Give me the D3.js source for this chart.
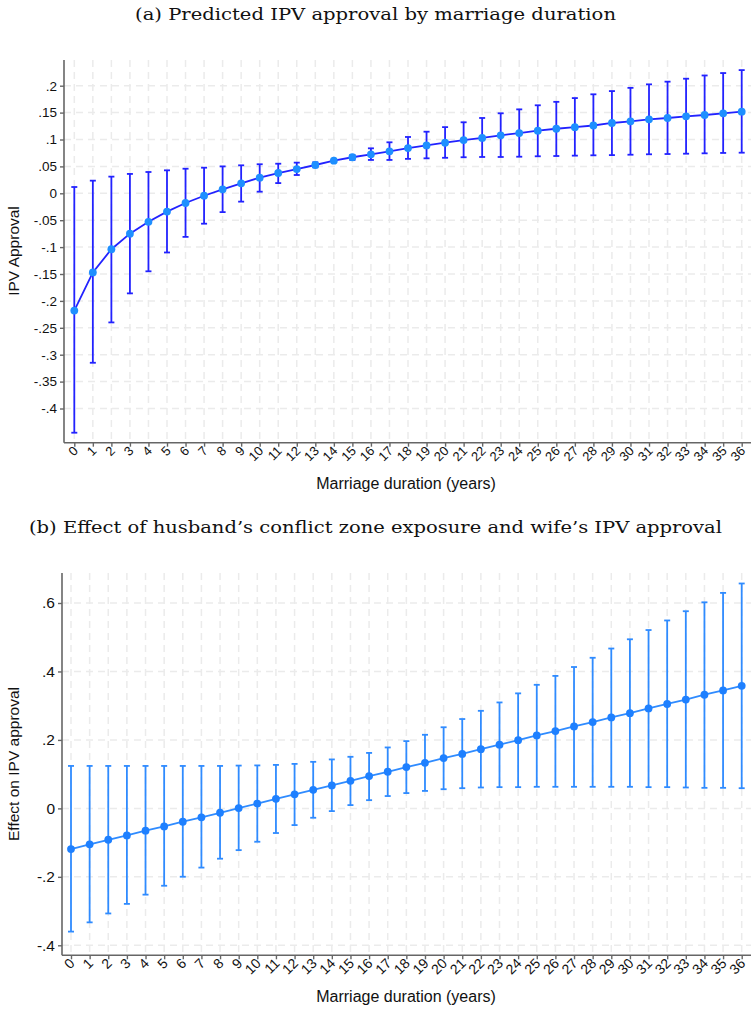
<!DOCTYPE html>
<html>
<head>
<meta charset="utf-8">
<script src="https://cdn.jsdelivr.net/npm/d3@7"></script>
<style>
body { margin:0; background:#fff; }
svg { display:block; }
</style>
</head>
<body>
<svg id="chart" width="751" height="1009"></svg>
<script>
// ---- Data ----
const years = d3.range(0, 37);
const tickLabelsA = [".2", ".15", ".1", ".05", "0", "-.05", "-.1", "-.15", "-.2", "-.25", "-.3", "-.35", "-.4"];
const tickValuesA = [0.2, 0.15, 0.1, 0.05, 0, -0.05, -0.1, -0.15, -0.2, -0.25, -0.3, -0.35, -0.4];
const meanA = [-0.218, -0.147, -0.104, -0.075, -0.053, -0.034, -0.018, -0.0045, 0.0074, 0.0186,
  0.029, 0.0377, 0.045, 0.0526, 0.0606, 0.067, 0.0725, 0.078, 0.084, 0.089,
  0.094, 0.099, 0.103, 0.1078, 0.112, 0.1164, 0.120, 0.123, 0.126, 0.1307,
  0.1338, 0.1375, 0.140, 0.143, 0.1455, 0.1487, 0.1517];
const upperA = [0.0117, 0.0235, 0.031, 0.036, 0.0396, 0.0427, 0.0457, 0.0476, 0.050, 0.052,
  0.054, 0.055, 0.057, 0.0576, 0.0615, 0.071, 0.0836, 0.0948, 0.1047, 0.1145,
  0.123, 0.132, 0.140, 0.1487, 0.156, 0.1636, 0.170, 0.177, 0.184, 0.190,
  0.196, 0.2025, 0.2075, 0.213, 0.219, 0.2235, 0.229];
const lowerA = [-0.445, -0.315, -0.240, -0.186, -0.145, -0.110, -0.081, -0.0565, -0.035, -0.0155,
  0.003, 0.019, 0.034, 0.0483, 0.0597, 0.062, 0.062, 0.062, 0.064, 0.065,
  0.066, 0.067, 0.0675, 0.0675, 0.068, 0.0688, 0.0693, 0.070, 0.0706, 0.071,
  0.0717, 0.0725, 0.073, 0.0736, 0.0743, 0.075, 0.0755];

const tickLabelsB = [".6", ".4", ".2", "0", "-.2", "-.4"];
const tickValuesB = [0.6, 0.4, 0.2, 0, -0.2, -0.4];
const meanB = [-0.119, -0.105, -0.0917, -0.079, -0.065, -0.0526, -0.039, -0.026, -0.0128, 0.001,
  0.014, 0.028, 0.041, 0.0543, 0.067, 0.0806, 0.0943, 0.107, 0.1206, 0.133,
  0.147, 0.159, 0.173, 0.186, 0.1994, 0.213, 0.2257, 0.2394, 0.252, 0.2657,
  0.278, 0.292, 0.305, 0.318, 0.332, 0.3445, 0.358];
const upperB = [0.124, 0.124, 0.124, 0.124, 0.124, 0.124, 0.124, 0.124, 0.124, 0.125,
  0.1255, 0.127, 0.130, 0.136, 0.143, 0.1507, 0.162, 0.178, 0.1965, 0.215,
  0.237, 0.261, 0.285, 0.3095, 0.336, 0.361, 0.387, 0.413, 0.440, 0.467,
  0.494, 0.521, 0.549, 0.576, 0.602, 0.6295, 0.657];
const lowerB = [-0.360, -0.333, -0.307, -0.279, -0.252, -0.226, -0.1997, -0.173, -0.147, -0.122,
  -0.0975, -0.072, -0.0488, -0.0274, -0.008, 0.0096, 0.024, 0.036, 0.0447, 0.051,
  0.056, 0.059, 0.061, 0.062, 0.062, 0.063, 0.063, 0.063, 0.063, 0.063,
  0.063, 0.062, 0.062, 0.061, 0.060, 0.060, 0.059];

const titleA = "(a) Predicted IPV approval by marriage duration";
const titleB = "(b) Effect of husband\u2019s conflict zone exposure and wife\u2019s IPV approval";
const xTitle = "Marriage duration (years)";
const yTitleA = "IPV Approval";
const yTitleB = "Effect on IPV approval";

// ---- Drawing ----
const svg = d3.select("#chart");
const sans = "Liberation Sans, Arial, sans-serif";
const serif = "DejaVu Serif, serif";

function panel(cfg) {
  const g = svg.append("g");
  const x = d3.scaleLinear().domain([0, 36]).range(cfg.xRange);
  const y = d3.scaleLinear().domain(cfg.yDomain).range(cfg.yRange);

  // title
  g.append("text").attr("x", 375.5).attr("y", cfg.titleY)
    .attr("text-anchor", "middle").attr("font-family", serif).attr("font-size", 17)
    .attr("textLength", cfg.titleLen).attr("lengthAdjust", "spacingAndGlyphs")
    .attr("fill", "#111").text(cfg.title);

  // grid
  const grid = g.append("g").attr("stroke", "#ebebeb").attr("stroke-width", 1.5)
    .attr("stroke-dasharray", "7,5");
  grid.selectAll("line.v").data(years).join("line")
    .attr("x1", d => x(d)).attr("x2", d => x(d))
    .attr("y1", cfg.top).attr("y2", cfg.bottom);
  grid.selectAll("line.h").data(cfg.tickValues).join("line")
    .attr("x1", cfg.left).attr("x2", 751)
    .attr("y1", d => y(d)).attr("y2", d => y(d));

  // axes
  const yAxis = d3.axisLeft(y).tickValues(cfg.tickValues)
    .tickFormat((d, i) => cfg.tickLabels[i]).tickSize(4).tickPadding(3);
  const ya = g.append("g").attr("transform", `translate(${cfg.left},0)`).call(yAxis);
  ya.select(".domain").attr("d", `M-0,${cfg.top}V${cfg.bottom}`);
  ya.attr("font-family", sans).attr("font-size", cfg.yTickSize);

  const xAxis = d3.axisBottom(x).tickValues(years).tickFormat(d => String(d)).tickSize(4);
  const xa = g.append("g").attr("transform", `translate(0,${cfg.bottom})`).call(xAxis);
  xa.select(".domain").attr("d", `M${cfg.left},0H751`);
  xa.attr("font-family", sans).attr("font-size", cfg.xTickSize);
  xa.selectAll(".tick text")
    .attr("text-anchor", "end").attr("dy", null).attr("y", null)
    .attr("transform", "translate(4,9) rotate(-45)");

  [ya, xa].forEach(a => {
    a.select(".domain").attr("stroke", "#666").attr("stroke-width", 1.6);
    a.selectAll(".tick line").attr("stroke", "#666").attr("stroke-width", 1.4);
    a.selectAll(".tick text").attr("fill", "#111");
  });

  // axis titles
  g.append("text").attr("x", 406).attr("y", cfg.xTitleY).attr("text-anchor", "middle")
    .attr("font-family", sans).attr("font-size", 16).attr("fill", "#111").text(xTitle);
  g.append("text").attr("transform", `translate(19,${cfg.yTitleCenter}) rotate(-90)`)
    .attr("text-anchor", "middle").attr("font-family", sans).attr("font-size", 15.5)
    .attr("fill", "#111").text(cfg.yTitle);

  // error bars
  const eb = g.append("g").attr("stroke", cfg.barColor).attr("stroke-width", 1.8);
  eb.selectAll("line.bar").data(years).join("line")
    .attr("x1", d => x(d)).attr("x2", d => x(d))
    .attr("y1", d => y(cfg.upper[d])).attr("y2", d => y(cfg.lower[d]));
  eb.selectAll("line.capu").data(years).join("line")
    .attr("x1", d => x(d) - 3).attr("x2", d => x(d) + 3)
    .attr("y1", d => y(cfg.upper[d])).attr("y2", d => y(cfg.upper[d]));
  eb.selectAll("line.capl").data(years).join("line")
    .attr("x1", d => x(d) - 3).attr("x2", d => x(d) + 3)
    .attr("y1", d => y(cfg.lower[d])).attr("y2", d => y(cfg.lower[d]));

  // line
  const line = d3.line().x(d => x(d)).y(d => y(cfg.mean[d]));
  g.append("path").datum(years).attr("d", line).attr("fill", "none")
    .attr("stroke", cfg.barColor).attr("stroke-width", 1.8);

  // markers
  g.selectAll("circle.m").data(years).join("circle")
    .attr("cx", d => x(d)).attr("cy", d => y(cfg.mean[d])).attr("r", 3.9)
    .attr("fill", cfg.dotColor);
}

panel({
  title: titleA, titleY: 20, titleLen: 481,
  xRange: [74.3, 741.7], yDomain: [-0.4, 0.2], yRange: [408.5, 85.7],
  left: 64, top: 60, bottom: 442.7,
  tickValues: tickValuesA, tickLabels: tickLabelsA, yTickSize: 13.5, xTickSize: 13,
  mean: meanA, upper: upperA, lower: lowerA,
  xTitleY: 489, yTitle: yTitleA, yTitleCenter: 251,
  barColor: "#2222ff", dotColor: "#1e8fff"
});

panel({
  title: titleB, titleY: 533, titleLen: 693,
  xRange: [71, 741.7], yDomain: [-0.4, 0.6], yRange: [945.3, 603],
  left: 62, top: 573, bottom: 955.3,
  tickValues: tickValuesB, tickLabels: tickLabelsB, yTickSize: 15.5, xTickSize: 14,
  mean: meanB, upper: upperB, lower: lowerB,
  xTitleY: 1002, yTitle: yTitleB, yTitleCenter: 764,
  barColor: "#2f8bff", dotColor: "#1e80ff"
});
</script>
</body>
</html>
